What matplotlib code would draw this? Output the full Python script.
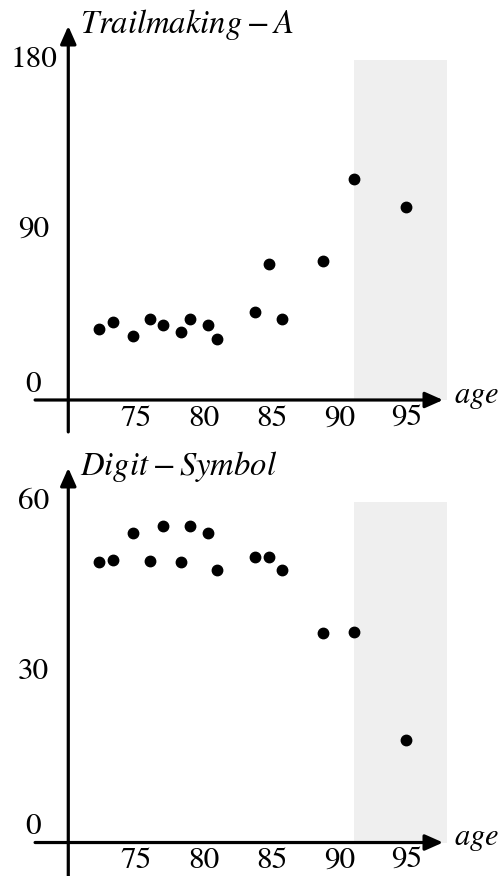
import matplotlib
matplotlib.use('Agg')
import matplotlib.pyplot as plt

plt.rcParams['font.family'] = ['STIXGeneral', 'DejaVu Serif']
plt.rcParams['mathtext.fontset'] = 'stix'

# данные (возраст одинаковый для обеих панелей)
ages = [72.3, 73.3, 74.8, 76.0, 77.0, 78.3, 79.0, 80.3, 81.0,
        83.8, 84.8, 85.8, 88.8, 91.1, 94.9]
trail_a = [37.6, 41.1, 34.0, 43.0, 39.5, 35.8, 43.0, 39.5, 32.3,
           46.6, 71.8, 43.0, 73.7, 116.8, 102.3]
digit_symbol = [49.5, 49.7, 54.5, 49.6, 55.8, 49.5, 55.8, 54.5, 48.0,
                50.3, 50.3, 48.0, 36.9, 37.1, 18.0]

x_ticks = [75, 80, 85, 90, 95]
trail_yticks = [0, 90, 180]
digit_yticks = [0, 30, 60]
shade_range = (91.1, 97.95)


def draw_panel(ax, values, yticks, title, ylim, y_bottom, y_top):
    ax.set_xlim(64.96, 101.94)
    ax.set_ylim(*ylim)
    ax.axis('off')

    ymax = yticks[-1]
    ax.fill_between(shade_range, 0, ymax, color='#efefef', lw=0, zorder=0)

    ax.plot(ages, values, 'o', color='black', markersize=7.5, zorder=3)

    arrow = dict(arrowstyle='-|>,head_length=0.45,head_width=0.2', lw=2.3,
                 color='black', mutation_scale=24, shrinkA=0, shrinkB=0)
    # ось X
    ax.annotate('', xy=(97.66, 0), xytext=(67.55, 0), arrowprops=arrow,
                annotation_clip=False)
    # ось Y
    ax.annotate('', xy=(70, y_top), xytext=(70, y_bottom), arrowprops=arrow,
                annotation_clip=False)

    for t in x_ticks:
        ax.annotate(str(t), xy=(t, 0), xytext=(0, -3.5), textcoords='offset points',
                    ha='center', va='top', fontsize=22.5, annotation_clip=False)

    for t in yticks:
        dy = 11 if t == 0 else 0
        ax.annotate(str(t), xy=(70, t), xytext=(-25, dy), textcoords='offset points',
                    ha='center', va='center', fontsize=22.5, annotation_clip=False)

    ax.annotate(title, xy=(70, y_top), xytext=(8.5, -5), textcoords='offset points',
                ha='left', va='baseline', fontsize=23.5, annotation_clip=False)
    ax.annotate(r'$age$', xy=(97.66, 0), xytext=(8, -2), textcoords='offset points',
                ha='left', va='baseline', fontsize=22, annotation_clip=False)


fig = plt.figure(figsize=(5.01, 8.76), dpi=100)
ax1 = fig.add_axes([0, 0.5, 1, 0.5])
ax2 = fig.add_axes([0, 0.0, 1, 0.5])

draw_panel(ax1, trail_a, trail_yticks, r'$Trailmaking - A$',
           (-20.12, 211.76), -16.9, 198.0)
draw_panel(ax2, digit_symbol, digit_yticks, r'$Digit - Symbol$',
           (-5.90, 71.28), -7.0, 66.0)

fig.savefig('out.png', dpi=100)
